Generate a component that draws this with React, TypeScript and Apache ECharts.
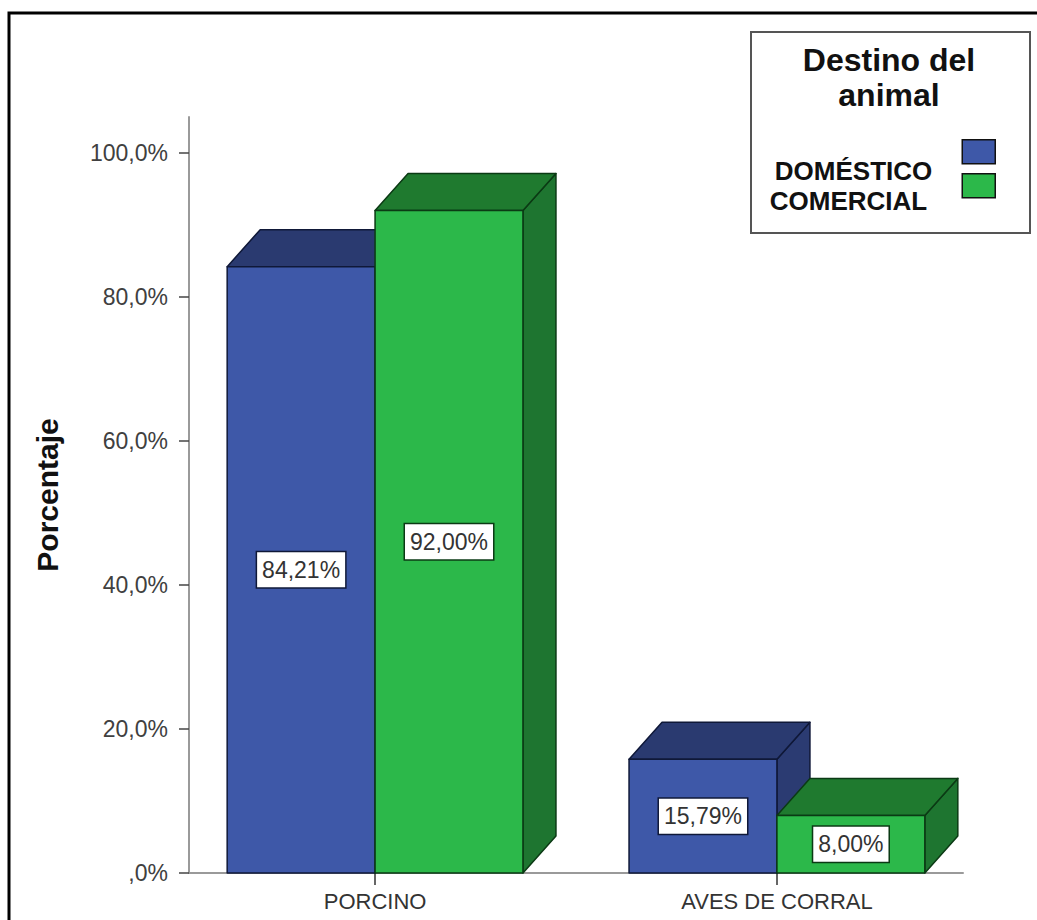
import React, { useEffect, useRef } from 'react';
import * as echarts from 'echarts';

// ---- data ----
const categories = ['PORCINO', 'AVES DE CORRAL'];
const seriesNames = ['DOMÉSTICO', 'COMERCIAL'];
const domestico = [84.21, 15.79];
const comercial = [92.0, 8.0];
const yTicks = [0, 20, 40, 60, 80, 100];
const xTicks = [0, 1];
const legendTitle = ['Destino del', 'animal'];
const yAxisName = 'Porcentaje';

const FONT = '"Liberation Sans", Arial, Helvetica, sans-serif';
const BAR_W = 0.368; // bar width in category units
const DX = 33;
const DY = -37;

const palette = {
  blue: { front: '#3e58a8', top: '#2a3a70', side: '#2b3b72', edge: '#0f1838' },
  green: { front: '#2cb84a', top: '#1f7a2f', side: '#1e7530', edge: '#0b3a14' },
};

const fmtPct = (v: number) => v.toFixed(2).replace('.', ',') + '%';
const fmtAxis = (v: number) => (v === 0 ? ',0%' : v.toFixed(1).replace('.', ',') + '%');

function makeRenderItem(side: number, c: { front: string; top: string; side: string; edge: string }) {
  return (_params: any, api: any) => {
    const ci = api.value(0);
    const v = api.value(1);
    const x0 = side < 0 ? ci - BAR_W : ci;
    const x1 = x0 + BAR_W;
    const p0 = api.coord([x0, 0]);
    const p1 = api.coord([x1, v]);
    const L = p0[0];
    const B = p0[1];
    const R = p1[0];
    const T = p1[1];
    const st = { stroke: c.edge, lineWidth: 1.5, lineJoin: 'round' };
    return {
      type: 'group',
      children: [
        {
          type: 'polygon',
          shape: { points: [[R, T], [R + DX, T + DY], [R + DX, B + DY], [R, B]] },
          style: { fill: c.side, ...st },
        },
        {
          type: 'polygon',
          shape: { points: [[L, T], [R, T], [R + DX, T + DY], [L + DX, T + DY]] },
          style: { fill: c.top, ...st },
        },
        {
          type: 'rect',
          shape: { x: L, y: T, width: R - L, height: B - T },
          style: { fill: c.front, ...st },
        },
        {
          type: 'text',
          style: {
            text: fmtPct(v),
            x: (L + R) / 2,
            y: (T + B) / 2,
            align: 'center',
            verticalAlign: 'middle',
            fill: '#333',
            fontSize: 23,
            fontFamily: FONT,
            backgroundColor: '#ffffff',
            borderColor: c.edge,
            borderWidth: 1.5,
            padding: [6, 5, 6, 5],
          },
        },
      ],
    };
  };
}

export default function App() {
  const ref = useRef<HTMLDivElement>(null);

  useEffect(() => {
    document.body.style.margin = '0';
    if (!ref.current) return;
    const chart = echarts.init(ref.current, undefined, { renderer: 'svg' });

    const legendCommon = {
      orient: 'vertical',
      align: 'right',
      padding: 0,
      itemWidth: 33,
      selectedMode: false,
      right: 41,
    };

    chart.setOption({
      animation: false,
      backgroundColor: '#ffffff',
      grid: { left: 189, right: 74, top: 117, bottom: 47, containLabel: false },
      xAxis: {
        type: 'value',
        min: -0.463,
        max: 1.463,
        splitLine: { show: false },
        axisLine: { show: true, onZero: false, lineStyle: { color: '#9a9a9a', width: 2 } },
        axisTick: { show: true, customValues: xTicks, length: 12, lineStyle: { color: '#333', width: 1.5 } },
        axisLabel: {
          customValues: xTicks,
          formatter: (v: number) => categories[Math.round(v)] ?? '',
          margin: 17,
          fontSize: 22,
          color: '#333',
          fontFamily: FONT,
        },
      },
      yAxis: {
        type: 'value',
        min: 0,
        max: 105,
        splitLine: { show: false },
        axisLine: { show: true, onZero: false, lineStyle: { color: '#9a9a9a', width: 2 } },
        axisTick: { show: true, customValues: yTicks, length: 10, lineStyle: { color: '#444', width: 1.5 } },
        axisLabel: {
          customValues: yTicks,
          formatter: fmtAxis,
          margin: 21,
          fontSize: 23,
          color: '#404040',
          fontFamily: FONT,
        },
        name: yAxisName,
        nameLocation: 'middle',
        nameRotate: 90,
        nameGap: 127,
        nameTextStyle: { fontSize: 30, fontWeight: 'bold', color: '#111', fontFamily: FONT },
      },
      legend: [
        {
          ...legendCommon,
          top: 139,
          itemHeight: 62,
          data: [
            {
              name: seriesNames[0],
              icon: 'path://M0 0H33V24H0Z M0 62',
              itemStyle: { borderColor: '#111', borderWidth: 1.5 },
            },
          ],
          textStyle: {
            fontSize: 26,
            fontWeight: 'bold',
            color: '#111',
            fontFamily: FONT,
            padding: [0, 25, 0, 0],
          },
        },
        {
          ...legendCommon,
          top: 173,
          itemHeight: 54,
          data: [
            {
              name: seriesNames[1],
              icon: 'path://M0 0H33V24H0Z M0 54',
              itemStyle: { borderColor: '#111', borderWidth: 1.5 },
            },
          ],
          textStyle: {
            fontSize: 26,
            fontWeight: 'bold',
            color: '#111',
            fontFamily: FONT,
            padding: [0, 30, 0, 0],
          },
        },
      ],
      graphic: [
        {
          type: 'rect',
          z: -10,
          shape: { x: 9, y: 13, width: 1100, height: 1000 },
          style: { fill: 'none', stroke: '#000', lineWidth: 3 },
        },
        {
          type: 'rect',
          z: 0,
          shape: { x: 751, y: 32, width: 279, height: 201 },
          style: { fill: '#fff', stroke: '#555', lineWidth: 2 },
        },
        {
          type: 'text',
          z: 1,
          style: {
            text: legendTitle.join('\n'),
            x: 889,
            y: 42,
            align: 'center',
            verticalAlign: 'top',
            fontSize: 32,
            lineHeight: 35,
            fontWeight: 'bold',
            fontFamily: FONT,
            fill: '#111',
          },
        },
      ],
      series: [
        {
          type: 'custom',
          name: seriesNames[0],
          clip: false,
          itemStyle: { color: palette.blue.front },
          encode: { x: 0, y: 1 },
          data: domestico.map((v, i) => [i, v]),
          renderItem: makeRenderItem(-1, palette.blue),
        },
        {
          type: 'custom',
          name: seriesNames[1],
          clip: false,
          itemStyle: { color: palette.green.front },
          encode: { x: 0, y: 1 },
          data: comercial.map((v, i) => [i, v]),
          renderItem: makeRenderItem(1, palette.green),
        },
      ],
    });

    return () => {
      chart.dispose();
    };
  }, []);

  return <div ref={ref} style={{ width: 1037, height: 920 }} />;
}
